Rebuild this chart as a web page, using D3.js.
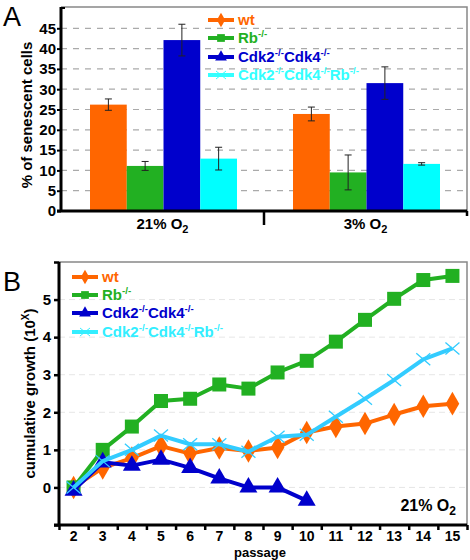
<!DOCTYPE html>
<html><head><meta charset="utf-8">
<script src="https://cdn.jsdelivr.net/npm/d3@7"></script>
<style>body{margin:0;background:#fff}svg{display:block;font-family:"Liberation Sans",Arial,sans-serif}</style>
</head><body><svg id="c" width="470" height="560"></svg>
<script>
// ---------- data ----------
const seriesNames = ["wt", "Rb", "Cdk2Cdk4", "Cdk2Cdk4Rb"];
const seriesColorsBar = ["#ff6600", "#22b022", "#0000cc", "#00ffff"];
const seriesColorsLine = ["#ff6600", "#22b022", "#0000cc", "#33ccff"];
const conditions = ["21", "3"];
const senescentMean21 = [26.2, 11.1, 42.1, 12.9];
const senescentErr21 = [1.4, 1.1, 3.9, 2.8];
const senescentMean3 = [23.9, 9.5, 31.5, 11.6];
const senescentErr3 = [1.7, 4.3, 4.0, 0.3];
const yTicksA = [0, 5, 10, 15, 20, 25, 30, 35, 40, 45];

const passages = [2,3,4,5,6,7,8,9,10,11,12,13,14,15];
const growthWt = [0, 0.52, 0.78, 1.1, 0.9, 1.05, 0.97, 1.06, 1.46, 1.62, 1.7, 1.94, 2.16, 2.23];
const growthRb = [0, 1.0, 1.62, 2.3, 2.36, 2.74, 2.63, 3.06, 3.37, 3.88, 4.46, 5.02, 5.52, 5.63];
const growthCdk = [-0.08, 0.67, 0.58, 0.74, 0.52, 0.24, 0.0, 0.0, -0.35];
const growthCdkRb = [0, 0.7, 1.0, 1.38, 1.15, 1.15, 0.95, 1.35, 1.4, 1.88, 2.36, 2.86, 3.41, 3.7];
const yTicksB = [0, 1, 2, 3, 4, 5];

const svg = d3.select("#c");
const font = '"Liberation Sans",Arial,sans-serif';

function legend(g, x, ys, size, cyan) {
  const syms = [d3.symbolDiamond, d3.symbolSquare, d3.symbolTriangle, null];
  seriesNames.forEach((n, i) => {
    const y = ys[i];
    const c = i === 3 ? cyan : seriesColorsLine[i];
    g.append("line").attr("x1", x).attr("x2", x + 26).attr("y1", y).attr("y2", y)
      .attr("stroke", c).attr("stroke-width", 4);
    if (syms[i]) g.append("path").attr("d", d3.symbol(syms[i], 60)()).attr("transform", `translate(${x+13},${y})`).attr("fill", c);
    else g.append("path").attr("d", "M-5,-4L5,4M-5,4L5,-4").attr("transform", `translate(${x+13},${y})`).attr("stroke", c).attr("stroke-width", 1);
    const t = g.append("text").attr("x", x + 30).attr("y", y + 5).attr("fill", c)
      .attr("font-size", size).attr("font-weight", "bold");
    const sup = (s) => t.append("tspan").attr("font-size", size * 0.65).attr("dy", -6).text(s);
    const base = (s) => t.append("tspan").attr("dy", 6).text(s);
    if (i === 0) t.text("wt");
    else if (i === 1) { t.append("tspan").text("Rb"); sup("-/-"); }
    else {
      t.append("tspan").text("Cdk2"); sup("-/-"); base("Cdk4"); sup("-/-");
      if (i === 3) { base("Rb"); sup("-/-"); }
    }
  });
}

// ---------- Panel A ----------
const A = {left: 61, right: 467, top: 7, bottom: 211};
const yA = d3.scaleLinear().domain([0, 50]).range([A.bottom, A.top + 1]);
const xA = d3.scaleBand().domain(conditions).range([A.left, A.right]);
const xInner = d3.scaleBand().domain(seriesNames).range([29, 176]);
const gA = svg.append("g");

gA.selectAll(".gridA").data(yTicksA.filter(d => d > 0)).join("line")
  .attr("x1", A.left).attr("x2", A.right).attr("y1", d => yA(d)).attr("y2", d => yA(d))
  .attr("stroke", "#aaa").attr("stroke-width", 1.2).attr("stroke-dasharray", "6,6");
gA.append("path").attr("d", `M${A.left},${A.top}H${A.right}V${A.bottom}`).attr("fill", "none").attr("stroke", "#888").attr("stroke-width", 1.5);

const barData = [];
conditions.forEach((c, ci) => {
  const m = ci === 0 ? senescentMean21 : senescentMean3;
  const e = ci === 0 ? senescentErr21 : senescentErr3;
  seriesNames.forEach((s, si) => barData.push({c, s, si, v: m[si], e: e[si]}));
});
gA.selectAll(".bar").data(barData).join("rect")
  .attr("x", d => xA(d.c) + xInner(d.s)).attr("width", xInner.bandwidth())
  .attr("y", d => yA(d.v)).attr("height", d => yA(0) - yA(d.v))
  .attr("fill", d => seriesColorsBar[d.si]);
const eb = gA.selectAll(".eb").data(barData).join("g")
  .attr("transform", d => `translate(${xA(d.c) + xInner(d.s) + xInner.bandwidth()/2},0)`);
eb.append("line").attr("y1", d => yA(d.v + d.e)).attr("y2", d => yA(d.v - d.e)).attr("stroke", "#222");
eb.append("line").attr("x1", -3.5).attr("x2", 3.5).attr("y1", d => yA(d.v + d.e)).attr("y2", d => yA(d.v + d.e)).attr("stroke", "#222");
eb.append("line").attr("x1", -3.5).attr("x2", 3.5).attr("y1", d => yA(d.v - d.e)).attr("y2", d => yA(d.v - d.e)).attr("stroke", "#222");

const axA = gA.append("g").attr("transform", `translate(${A.left},0)`)
  .call(d3.axisLeft(yA).tickValues(yTicksA).tickSize(4).tickPadding(1).tickFormat(d3.format("d")));
axA.select(".domain").attr("stroke", "#000").attr("stroke-width", 3).attr("d", `M0,${A.top}V${A.bottom}`);
axA.selectAll(".tick line").attr("stroke-width", 2);
axA.selectAll("text").attr("font-size", 15).attr("font-weight", "bold").attr("font-family", font).attr("fill", "#000");
axA.append("line").attr("x1", 0).attr("x2", 4).attr("y1", A.top + 1).attr("y2", A.top + 1).attr("stroke", "#000").attr("stroke-width", 2);
gA.append("line").attr("x1", A.left - 4).attr("x2", A.right).attr("y1", A.bottom).attr("y2", A.bottom).attr("stroke", "#000").attr("stroke-width", 3);
gA.selectAll(".xtA").data([conditions[1]]).join("line")
  .attr("x1", d => xA(d)).attr("x2", d => xA(d)).attr("y1", A.bottom).attr("y2", A.bottom + 14)
  .attr("stroke", "#000").attr("stroke-width", 2.5);
gA.append("line").attr("x1", A.right).attr("x2", A.right).attr("y1", A.bottom).attr("y2", A.bottom + 5).attr("stroke", "#000").attr("stroke-width", 2.5);
conditions.forEach(c => {
  const t = gA.append("text").attr("x", xA(c) + xA.bandwidth()/2).attr("y", A.bottom + 18)
    .attr("text-anchor", "middle").attr("font-size", 15).attr("font-weight", "bold");
  t.append("tspan").text(c + "% O");
  t.append("tspan").attr("font-size", 11).attr("dy", 4).text("2");
});
gA.append("text").attr("transform", `translate(32,${(A.top + A.bottom)/2 + 6}) rotate(-90)`)
  .attr("text-anchor", "middle").attr("font-size", 15).attr("font-weight", "bold").text("% of senescent cells");
svg.append("text").attr("x", 3).attr("y", 26).attr("font-size", 27).text("A");
legend(gA.append("g"), 208, [20, 38, 57, 75], 15, "#33ffff");

// ---------- Panel B ----------
const B = {left: 59, right: 467, top: 262, bottom: 525};
const xB = d3.scaleLinear().domain([1.5, 15.5]).range([B.left, B.right]);
const yB = d3.scaleLinear().domain([-1, 6]).range([B.bottom, B.top]);
const gB = svg.append("g");
gB.selectAll(".gridB").data(yTicksB).join("line")
  .attr("x1", B.left).attr("x2", B.right).attr("y1", d => yB(d)).attr("y2", d => yB(d))
  .attr("stroke", "#e6e6e6").attr("stroke-width", 1).attr("stroke-dasharray", "6,4");
gB.append("path").attr("d", `M${B.left},${B.top}H${B.right}V${B.bottom}`).attr("fill", "none").attr("stroke", "#888").attr("stroke-width", 1.5);

const axBy = gB.append("g").attr("transform", `translate(${B.left},0)`)
  .call(d3.axisLeft(yB).tickValues(d3.range(-1, 7)).tickSize(5).tickPadding(3).tickFormat(d => yTicksB.includes(d) ? d : ""));
axBy.select(".domain").attr("stroke-width", 3).attr("d", `M0,${B.top}V${B.bottom}`);
axBy.selectAll(".tick line").attr("stroke-width", 2.5);
axBy.selectAll("text").attr("font-size", 15).attr("font-weight", "bold").attr("font-family", font);

const axBx = gB.append("g").attr("transform", `translate(0,${B.bottom})`)
  .call(d3.axisBottom(xB).tickValues(d3.range(1.5, 16, 1)).tickSize(5).tickFormat(""));
axBx.select(".domain").attr("stroke-width", 3).attr("d", `M${B.left - 5},0H${B.right}`);
axBx.selectAll(".tick line").attr("stroke-width", 2.5);
gB.selectAll(".xlabB").data(passages).join("text")
  .attr("x", d => xB(d)).attr("y", B.bottom + 16).attr("text-anchor", "middle")
  .attr("font-size", 14).attr("font-weight", "bold").text(d => d);
gB.append("text").attr("x", 260).attr("y", 557).attr("text-anchor", "middle").attr("font-size", 13).attr("font-weight", "bold").text("passage");
const yl = gB.append("text").attr("transform", `translate(35,${(B.top + B.bottom)/2}) rotate(-90)`)
  .attr("text-anchor", "middle").attr("font-size", 15).attr("font-weight", "bold");
yl.append("tspan").text("cumulative growth (10");
yl.append("tspan").attr("font-size", 10).attr("dy", -6).text("X");
yl.append("tspan").attr("dy", 6).text(")");
const ol = gB.append("text").attr("x", 456).attr("y", 511).attr("text-anchor", "end").attr("font-size", 16).attr("font-weight", "bold");
ol.append("tspan").text("21% O");
ol.append("tspan").attr("font-size", 12).attr("dy", 4).text("2");
svg.append("text").attr("x", 3).attr("y", 291).attr("font-size", 27).text("B");

const lineGen = d3.line().x(d => xB(d.p)).y(d => yB(d.v));
const allSeries = [growthWt, growthRb, growthCdk, growthCdkRb];
allSeries.forEach((vals, i) => {
  const pts = vals.map((v, k) => ({p: passages[k], v}));
  const c = seriesColorsLine[i];
  const g = gB.append("g");
  g.append("path").attr("d", lineGen(pts)).attr("fill", "none").attr("stroke", c).attr("stroke-width", 4).attr("stroke-linejoin", "round");
  const m = g.selectAll(".m").data(pts).join("g").attr("transform", d => `translate(${xB(d.p)},${yB(d.v)})`);
  if (i === 0) m.append("path").attr("d", d3.symbol(d3.symbolDiamond, 160)()).attr("fill", c);
  else if (i === 1) m.append("rect").attr("x", -7).attr("y", -7).attr("width", 14).attr("height", 14).attr("fill", c);
  else if (i === 2) m.append("path").attr("d", d3.symbol(d3.symbolTriangle, 140)()).attr("fill", c);
  else m.append("path").attr("d", "M-7,-6L7,6M-7,6L7,-6").attr("stroke", c).attr("stroke-width", 1.3);
});
legend(gB.append("g"), 72, [277, 295, 313, 332], 15, "#33eeff");
</script></body></html>
